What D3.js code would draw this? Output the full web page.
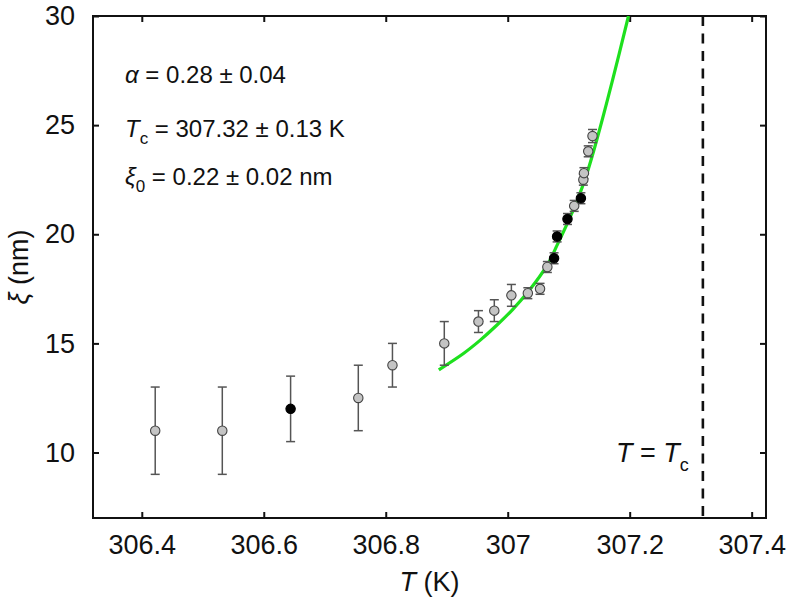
<!DOCTYPE html>
<html>
<head>
<meta charset="utf-8">
<script src="https://cdn.jsdelivr.net/npm/d3@7"></script>
<style>
  html, body { margin: 0; padding: 0; background: #fff; }
  svg { display: block; font-family: "Liberation Sans", Arial, sans-serif; }
</style>
</head>
<body>
<svg id="chart" width="788" height="600"></svg>
<script>
// ---- data ----
const tempK = [306.422, 306.532, 306.644, 306.755, 306.811, 306.896, 306.952, 306.978, 307.006, 307.033, 307.053, 307.065, 307.076, 307.081, 307.098, 307.109, 307.120, 307.124, 307.125, 307.132, 307.139];
const xiNm  = [11, 11, 12, 12.5, 14, 15, 16, 16.5, 17.2, 17.3, 17.5, 18.5, 18.9, 19.9, 20.7, 21.3, 21.65, 22.5, 22.8, 23.8, 24.5];
const xiErr = [2, 2, 1.5, 1.5, 1, 1, 0.5, 0.5, 0.5, 0.25, 0.25, 0.25, 0.25, 0.25, 0.25, 0.25, 0.25, 0.25, 0.25, 0.25, 0.3];
const isBlack = [0, 0, 1, 0, 0, 0, 0, 0, 0, 0, 0, 0, 1, 1, 1, 0, 1, 0, 0, 0, 0];

const fitT  = [306.887, 306.928, 306.955, 306.982, 307.008, 307.035, 307.065, 307.081, 307.097, 307.114, 307.130, 307.146, 307.172, 307.198];
const fitXi = [13.79, 14.55, 15.15, 15.83, 16.55, 17.42, 18.6, 19.5, 20.45, 21.55, 22.8, 24.32, 27.07, 30.0];

const Tc = 307.32;
const xTicks = [306.4, 306.6, 306.8, 307, 307.2, 307.4];
const xTickLabels = ["306.4", "306.6", "306.8", "307", "307.2", "307.4"];
const yTicks = [10, 15, 20, 25, 30];
const yTickLabels = ["10", "15", "20", "25", "30"];

// ---- layout ----
const pL = 93, pR = 766, pT = 16, pB = 518;
const svg = d3.select("#chart");

const x = d3.scaleLinear().domain([306.32, 307.4235]).range([pL, pR]);
const y = d3.scaleLinear().domain([7, 30]).range([pB, pT]);

// clip
svg.append("defs").append("clipPath").attr("id", "clip")
  .append("rect").attr("x", pL).attr("y", pT).attr("width", pR - pL).attr("height", pB - pT);

// axes with inward ticks
const tickLen = 6;
const gx = svg.append("g").attr("transform", `translate(0,${pB})`)
  .call(d3.axisBottom(x).tickValues(xTicks).tickFormat((d, i) => xTickLabels[i]).tickSizeInner(-tickLen).tickSizeOuter(0).tickPadding(17));
const gxTop = svg.append("g").attr("transform", `translate(0,${pT})`)
  .call(d3.axisTop(x).tickValues(xTicks).tickFormat("").tickSizeInner(-tickLen).tickSizeOuter(0));
const gy = svg.append("g").attr("transform", `translate(${pL},0)`)
  .call(d3.axisLeft(y).tickValues(yTicks).tickFormat((d, i) => yTickLabels[i]).tickSizeInner(-tickLen).tickSizeOuter(0).tickPadding(18));
const gyR = svg.append("g").attr("transform", `translate(${pR},0)`)
  .call(d3.axisRight(y).tickValues(yTicks).tickFormat("").tickSizeInner(-tickLen).tickSizeOuter(0));

[gx, gxTop, gy, gyR].forEach(g => {
  g.select(".domain").remove();
  g.selectAll(".tick line").attr("stroke", "#111").attr("stroke-width", 2);
  g.selectAll("text").attr("fill", "#111").style("font-size", "27px").style("font-family", "'Liberation Sans', Arial, sans-serif");
});
gx.selectAll("text").attr("dy", "0.71em");

// frame
svg.append("rect").attr("x", pL).attr("y", pT).attr("width", pR - pL).attr("height", pB - pT)
  .attr("fill", "none").attr("stroke", "#111").attr("stroke-width", 2);

// dashed Tc line
svg.append("line").attr("x1", x(Tc)).attr("x2", x(Tc)).attr("y1", pT).attr("y2", pB)
  .attr("stroke", "#111").attr("stroke-width", 2.6).attr("stroke-dasharray", "10,7.5");

const plot = svg.append("g").attr("clip-path", "url(#clip)");

// fitted curve
const line = d3.line().x(d => x(d[0])).y(d => y(d[1])).curve(d3.curveCatmullRom.alpha(0.5));
plot.append("path").datum(fitT.map((t, i) => [t, fitXi[i]]))
  .attr("d", line).attr("fill", "none").attr("stroke", "#1ee01e").attr("stroke-width", 3.2);

// error bars
const pts = tempK.map((t, i) => ({ t, v: xiNm[i], e: xiErr[i], b: isBlack[i] }));
const cap = 4.5;
const eg = plot.append("g").attr("stroke", "#555").attr("stroke-width", 1.5);
pts.forEach(p => {
  const cx = x(p.t), y1 = y(p.v + p.e), y2 = y(p.v - p.e);
  eg.append("line").attr("x1", cx).attr("x2", cx).attr("y1", y1).attr("y2", y2);
  eg.append("line").attr("x1", cx - cap).attr("x2", cx + cap).attr("y1", y1).attr("y2", y1);
  eg.append("line").attr("x1", cx - cap).attr("x2", cx + cap).attr("y1", y2).attr("y2", y2);
});

// markers
plot.append("g").selectAll("circle").data(pts).join("circle")
  .attr("cx", d => x(d.t)).attr("cy", d => y(d.v)).attr("r", 4.7)
  .attr("fill", d => d.b ? "#000" : "#c4c4c4")
  .attr("stroke", d => d.b ? "#000" : "#444").attr("stroke-width", 1.1);

// annotations
const ann = svg.append("g").attr("fill", "#111").style("font-size", "24px");
const t1 = ann.append("text").attr("x", 125).attr("y", 83);
t1.append("tspan").style("font-style", "italic").text("α");
t1.append("tspan").text(" = 0.28 ± 0.04");

const t2 = ann.append("text").attr("x", 125).attr("y", 137);
t2.append("tspan").style("font-style", "italic").text("T");
t2.append("tspan").attr("dy", 7).style("font-size", "17px").text("c");
t2.append("tspan").attr("dy", -7).text(" = 307.32 ± 0.13 K");

const t3 = ann.append("text").attr("x", 125).attr("y", 185);
t3.append("tspan").style("font-style", "italic").text("ξ");
t3.append("tspan").attr("dy", 7).style("font-size", "17px").text("0");
t3.append("tspan").attr("dy", -7).text(" = 0.22 ± 0.02 nm");

const t4 = svg.append("text").attr("x", 616).attr("y", 462).attr("fill", "#111").style("font-size", "27px");
t4.append("tspan").style("font-style", "italic").text("T");
t4.append("tspan").text(" = ");
t4.append("tspan").style("font-style", "italic").text("T");
t4.append("tspan").attr("dy", 9).style("font-size", "18px").text("c");

// axis titles
const xt = svg.append("text").attr("x", (pL + pR) / 2).attr("y", 591).attr("text-anchor", "middle")
  .attr("fill", "#111").style("font-size", "27px");
xt.append("tspan").style("font-style", "italic").text("T");
xt.append("tspan").text(" (K)");

const yt = svg.append("text").attr("transform", `translate(28,${(pT + pB) / 2}) rotate(-90)`)
  .attr("text-anchor", "middle").attr("fill", "#111").style("font-size", "27px");
yt.append("tspan").style("font-style", "italic").text("ξ");
yt.append("tspan").text(" (nm)");
</script>
</body>
</html>
